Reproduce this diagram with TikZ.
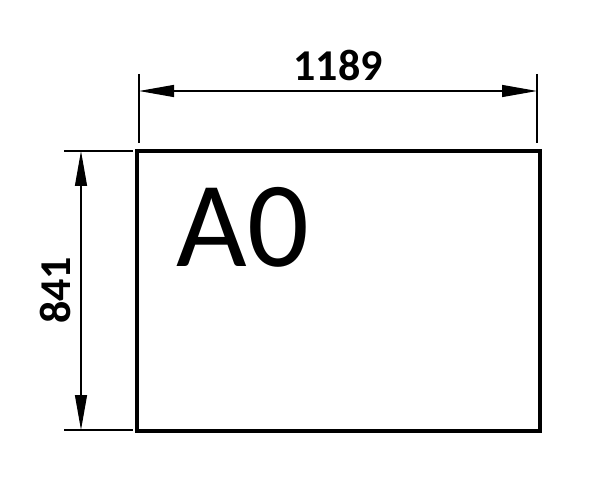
\documentclass[tikz,border=0pt]{standalone}
\usepackage{fontspec}
\setmainfont{Carlito}
\usetikzlibrary{arrows.meta}
\tikzset{
  dimline/.style={line width=1.3pt,{Triangle[length=35pt,width=12pt]}-{Triangle[length=35pt,width=12pt]}},
  extline/.style={line width=1.5pt},
}
\begin{document}
\begin{tikzpicture}[x=1pt,y=-1pt]
    \useasboundingbox (0,0) rectangle (600,500);
    \node[draw,line width=4pt,minimum width=403pt,minimum height=280pt,inner sep=0pt] (sheet) at (338.5,291) {};
    \node (name) at (243,227) {\fontsize{122}{122}\selectfont A0};
    % width
    \coordinate (wa) at (139,91);
    \coordinate (wb) at (537,91);
    \draw[extline] (139,74) -- (139,143);
    \draw[extline] (537,74) -- (537,143);
    \draw[dimline] (wa) -- node[above=6pt]{\fontsize{44}{44}\selectfont\bfseries 1189} (wb);
    % height
    \coordinate (ha) at (81,151);
    \coordinate (hb) at (81,430);
    \draw[extline] (64,151) -- (133,151);
    \draw[extline] (64,430) -- (133,430);
    \draw[dimline] (ha) -- node[rotate=90,above=6pt]{\fontsize{44}{44}\selectfont\bfseries 841} (hb);
\end{tikzpicture}
\end{document}
